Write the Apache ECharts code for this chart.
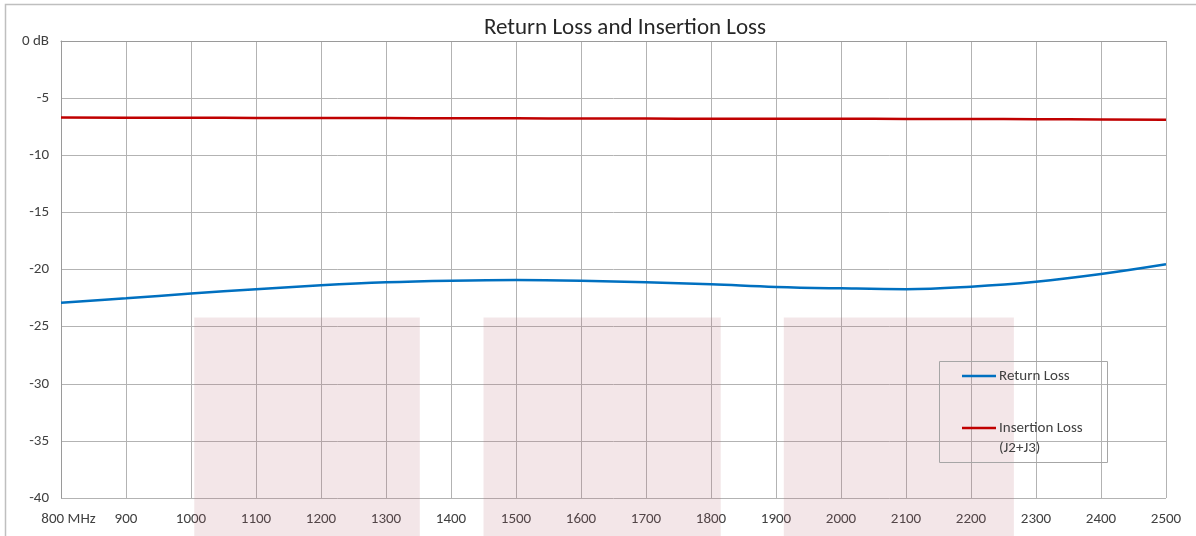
<!DOCTYPE html>
<html>
<head>
<meta charset="utf-8">
<script src="https://cdn.jsdelivr.net/npm/echarts@6/dist/echarts.min.js"></script>
<style>html,body{margin:0;padding:0;background:#fff;}#c{width:1196px;height:536px;}</style>
</head>
<body>
<div id="c"></div>
<script>
// Data
const freqs = [800, 900, 1000, 1100, 1200, 1300, 1400, 1500, 1600, 1700, 1800, 1900, 2000, 2100, 2200, 2300, 2400, 2500];
const returnLoss = [-22.9, -22.52, -22.1, -21.73, -21.38, -21.12, -20.98, -20.92, -20.98, -21.12, -21.3, -21.53, -21.65, -21.72, -21.5, -21.07, -20.4, -19.55];
const insertionLoss = [-6.70, -6.71, -6.72, -6.73, -6.74, -6.75, -6.76, -6.77, -6.78, -6.79, -6.80, -6.80, -6.81, -6.82, -6.83, -6.84, -6.86, -6.89];
const bandStart = [1005, 1450, 1912];
const bandEnd = [1352, 1815, 2266];
const bandTop = -24.2;
const yTickLabels = {0: '0 dB'};
const xFirstLabel = '800 MHz';

const FONT = 'Carlito, Lato, sans-serif';
const TXT = '#404040';

const chart = echarts.init(document.getElementById('c'), null, {renderer: 'canvas'});

const bandData = bandStart.map((s, i) => [s, bandEnd[i], bandTop]);

chart.setOption({
  animation: false,
  backgroundColor: '#fff',
  title: {
    text: 'Return Loss and Insertion Loss',
    left: 620,
    top: 12,
    textAlign: 'center',
    textStyle: {fontFamily: FONT, fontSize: 23, fontWeight: 'normal', color: '#262626'}
  },
  grid: {left: 61, right: 30, top: 41, bottom: 38, containLabel: false},
  xAxis: {
    type: 'value', min: 800, max: 2500, interval: 100,
    axisLine: {show: true, lineStyle: {color: '#9a9a9a', width: 1}},
    axisTick: {show: false},
    splitLine: {show: true, lineStyle: {color: '#b3b3b3', width: 1}},
    axisLabel: {
      margin: 14, color: TXT, fontFamily: FONT, fontSize: 15,
      formatter: v => v === 800 ? '{m|' + xFirstLabel + '}' : String(v),
      rich: {m: {padding: [0, 0, 0, 15], fontFamily: FONT, fontSize: 15, color: TXT}}
    }
  },
  yAxis: {
    type: 'value', min: -40, max: 0, interval: 5,
    axisLine: {show: true, lineStyle: {color: '#9a9a9a', width: 1}},
    axisTick: {show: false},
    splitLine: {show: true, lineStyle: {color: '#b3b3b3', width: 1}},
    axisLabel: {
      margin: 12, color: TXT, fontFamily: FONT, fontSize: 15,
      formatter: v => (yTickLabels[v] !== undefined ? yTickLabels[v] : String(v))
    }
  },
  legend: {
    left: 962, top: 366, orient: 'vertical', itemGap: 12,
    padding: 0,
    icon: 'rect', itemWidth: 34, itemHeight: 2.5,
    data: ['Return Loss', 'Insertion Loss'],
    formatter: n => n === 'Insertion Loss' ? '\nInsertion Loss\n(J2+J3)' : n,
    textStyle: {fontFamily: FONT, fontSize: 15, color: TXT, lineHeight: 20, padding: [0, 0, 0, -2]},
    selectedMode: false
  },
  graphic: [
    {type: 'rect', shape: {x: 5.5, y: 4.5, width: 1300, height: 700}, style: {fill: 'none', stroke: '#bfbfbf', lineWidth: 1.5}, z: 100, silent: true},
    {type: 'rect', shape: {x: 939.5, y: 361.5, width: 168, height: 101}, style: {fill: 'none', stroke: '#a6a6a6', lineWidth: 1}, z: 100, silent: true}
  ],
  series: [
    {
      type: 'custom', name: 'bands', clip: false, z: 1, silent: true,
      data: bandData,
      renderItem: (params, api) => {
        const p0 = api.coord([api.value(0), api.value(2)]);
        const p1 = api.coord([api.value(1), api.value(2)]);
        return {
          type: 'rect',
          shape: {x: p0[0], y: p0[1], width: p1[0] - p0[0], height: api.getHeight() - p0[1]},
          style: {fill: 'rgba(180,100,110,0.16)'}
        };
      },
      encode: {x: [0, 1], y: 2}
    },
    {
      type: 'line', name: 'Return Loss', smooth: 0.4, showSymbol: false, z: 5,
      data: freqs.map((f, i) => [f, returnLoss[i]]),
      lineStyle: {color: '#0070C0', width: 2.5}, itemStyle: {color: '#0070C0'}
    },
    {
      type: 'line', name: 'Insertion Loss', smooth: true, showSymbol: false, z: 5,
      data: freqs.map((f, i) => [f, insertionLoss[i]]),
      lineStyle: {color: '#C00000', width: 2.5}, itemStyle: {color: '#C00000'}
    }
  ]
});
</script>
</body>
</html>
